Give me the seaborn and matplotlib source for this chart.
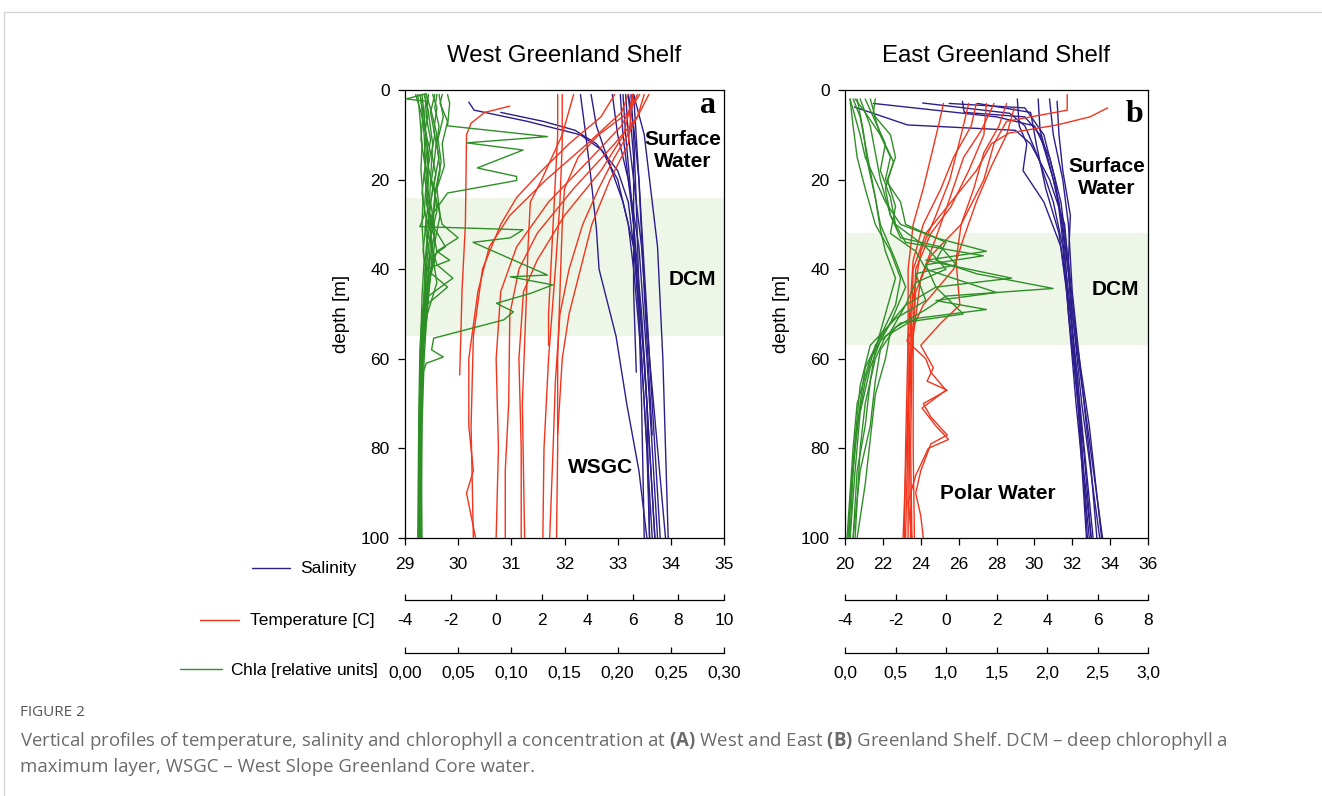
import numpy as np
import pandas as pd
import matplotlib
matplotlib.use("Agg")
import matplotlib.pyplot as plt
import seaborn as sns
from matplotlib.lines import Line2D

# ------------------------------------------------------------------ data
PANEL_TITLES = ["West Greenland Shelf", "East Greenland Shelf"]
PANEL_LETTERS = ["a", "b"]
DEPTH_TICKS = [0, 20, 40, 60, 80, 100]

WEST_SAL_TICKS = [29, 30, 31, 32, 33, 34, 35]
WEST_TEMP_TICKS = [-4, -2, 0, 2, 4, 6, 8, 10]
WEST_CHL_TICKS = [0.00, 0.05, 0.10, 0.15, 0.20, 0.25, 0.30]
WEST_CHL_LABELS = ["0,00", "0,05", "0,10", "0,15", "0,20", "0,25", "0,30"]

EAST_SAL_TICKS = [20, 22, 24, 26, 28, 30, 32, 34, 36]
EAST_TEMP_TICKS = [-4, -2, 0, 2, 4, 6, 8]
EAST_CHL_TICKS = [0.0, 0.5, 1.0, 1.5, 2.0, 2.5, 3.0]
EAST_CHL_LABELS = ["0,0", "0,5", "1,0", "1,5", "2,0", "2,5", "3,0"]

# deep chlorophyll maximum layer (depth range, m)
WEST_DCM = (24, 55)
EAST_DCM = (32, 57)

# profiles: (depth [m], value)
WEST_SALINITY = [
    [(2.7, 30.2), (4.5, 30.3), (7, 31.3), (10, 32.3), (13.4, 32.7), (20, 33.0), (30, 33.2), (40, 33.3), (60, 33.45), (80, 33.55), (100, 33.6)],
    [(5, 30.8), (7, 31.6), (9, 32.2), (12, 32.6), (18, 33.0), (25, 33.2), (40, 33.35), (60, 33.5), (80, 33.6), (100, 33.7)],
    [(1, 32.3), (10, 32.4), (20, 32.5), (31, 32.6), (40, 32.65), (55, 32.97), (70, 33.17), (85, 33.4), (100, 33.55)],
    [(1, 32.5), (8, 32.6), (15, 32.8), (25, 33.1), (35, 33.3), (50, 33.4), (70, 33.5), (100, 33.65)],
    [(1, 32.9), (10, 33.0), (20, 33.2), (30, 33.3), (50, 33.45), (70, 33.55), (100, 33.7)],
    [(1, 33.05), (10, 33.1), (20, 33.2), (35, 33.4), (60, 33.55), (100, 33.75)],
    [(1, 33.15), (10, 33.2), (20, 33.3), (35, 33.45), (60, 33.6), (100, 33.8)],
    [(1, 33.2), (8, 33.3), (20, 33.4), (40, 33.5), (60, 33.6), (100, 33.9)],
    [(1, 33.3), (10, 33.5), (20, 33.6), (35, 33.75), (60, 33.85), (100, 33.95)],
    [(1, 33.25), (10, 33.3), (25, 33.35), (45, 33.4), (70, 33.55), (100, 33.6)],
    [(1, 33.1), (10, 33.15), (30, 33.3), (50, 33.4), (70, 33.45), (100, 33.5)],
    [(1, 33.2), (15, 33.3), (30, 33.3), (45, 33.3), (63, 33.35)],
    [(1, 33.3), (20, 33.4), (45, 33.5), (77, 33.65)],
]

WEST_TEMPERATURE = [
    [(3.6, 0.6), (5, -0.5), (7.4, -1.1), (10, -1.3), (30, -1.35), (45, -1.5), (55, -1.55), (63.6, -1.6)],
    [(1, 5.8), (5, 5.5), (12, 4.0), (20, 2.2), (28, 0.6), (35, -0.3), (45, -0.8), (60, -1.2), (75, -1.2), (85, -1.0), (90, -1.3), (100, -0.9)],
    [(1, 6.2), (8, 5.5), (15, 4.2), (25, 2.3), (35, 0.9), (45, 0.2), (60, 0.0), (80, 0.1), (100, 0.0)],
    [(1, 6.5), (6, 6.2), (12, 5.2), (22, 3.4), (32, 1.8), (40, 1.0), (50, 0.6), (70, 0.55), (85, 0.4), (100, 0.4)],
    [(1, 6.0), (10, 5.6), (18, 4.6), (28, 3.0), (38, 1.8), (45, 1.2), (60, 1.0), (80, 1.1), (100, 1.1)],
    [(1, 2.7), (10, 2.7), (20, 2.6), (30, 2.5), (40, 2.4), (50, 2.3), (57, 2.3)],
    [(1, 2.9), (12, 2.9), (25, 2.8), (40, 2.6), (60, 2.3), (80, 2.1), (100, 2.05)],
    [(1, 6.7), (8, 6.0), (15, 5.2), (22, 4.5), (30, 3.8), (40, 3.2), (50, 2.8), (65, 2.6), (80, 2.5), (100, 2.35)],
    [(1, 6.3), (5, 5.8), (10, 4.5), (15, 3.6), (22, 3.0), (30, 2.9), (45, 2.8), (60, 2.7), (80, 2.7), (100, 2.65)],
    [(1, 3.4), (10, 2.9), (20, 2.0), (25, 1.5), (35, 1.4), (50, 1.3), (70, 1.15), (100, 1.25)],
    [(1, 6.0), (12, 5.8), (20, 5.0), (30, 4.2), (40, 3.7), (50, 3.2), (60, 2.9), (77, 2.7)],
    [(1, 5.2), (6, 4.6), (12, 3.2), (18, 2.0), (24, 0.9), (30, 0.2), (40, -0.6), (55, -1.0), (75, -1.1), (100, -1.0)],
]

WEST_CHLA = [
    [(1, 0.040), (3, 0.042), (8, 0.040), (10.4, 0.134), (11.8, 0.058), (13.4, 0.111), (17.4, 0.068), (19.3, 0.105), (20.2, 0.105), (23, 0.040), (28, 0.025), (35, 0.020), (45, 0.018), (60, 0.015), (80, 0.014), (100, 0.013)],
    [(2, 0.015), (10, 0.018), (20, 0.020), (28, 0.018), (30.5, 0.014), (31.2, 0.111), (33, 0.099), (34, 0.064), (41.3, 0.134), (41.7, 0.099), (43.5, 0.139), (45.4, 0.118), (47.6, 0.086), (49.5, 0.102), (51.3, 0.093), (55.4, 0.027), (58, 0.025), (59.6, 0.036), (61, 0.020), (65, 0.014), (80, 0.013), (100, 0.013)],
    [(1, 0.020), (5, 0.025), (10, 0.030), (15, 0.028), (20, 0.025), (25, 0.030), (30, 0.035), (33, 0.050), (36, 0.030), (38, 0.042), (40, 0.020), (44, 0.040), (48, 0.020), (55, 0.016), (70, 0.014), (100, 0.014)],
    [(1, 0.010), (5, 0.015), (10, 0.020), (15, 0.018), (20, 0.022), (25, 0.020), (30, 0.025), (35, 0.022), (40, 0.020), (50, 0.017), (60, 0.015), (80, 0.014), (100, 0.013)],
    [(1, 0.030), (4, 0.028), (8, 0.032), (12, 0.030), (18, 0.033), (24, 0.028), (30, 0.025), (36, 0.030), (42, 0.022), (50, 0.020), (60, 0.016), (80, 0.015), (100, 0.014)],
    [(1, 0.035), (3, 0.033), (7, 0.040), (12, 0.035), (17, 0.037), (22, 0.030), (28, 0.033), (34, 0.028), (40, 0.025), (48, 0.020), (58, 0.017), (75, 0.015), (100, 0.014)],
    [(1, 0.012), (6, 0.014), (12, 0.016), (18, 0.015), (24, 0.017), (30, 0.016), (38, 0.018), (46, 0.016), (55, 0.015), (70, 0.014), (100, 0.013)],
    [(1, 0.022), (6, 0.020), (11, 0.024), (16, 0.021), (22, 0.026), (27, 0.023), (32, 0.028), (37, 0.024), (43, 0.021), (52, 0.018), (65, 0.015), (85, 0.014), (100, 0.014)],
    [(1, 0.018), (5, 0.022), (9, 0.019), (14, 0.024), (20, 0.020), (26, 0.024), (31, 0.020), (39, 0.030), (42, 0.045), (46, 0.022), (54, 0.017), (62, 0.015), (80, 0.014), (100, 0.015)],
    [(1, 0.026), (4, 0.030), (9, 0.027), (15, 0.032), (21, 0.027), (27, 0.030), (33, 0.024), (38, 0.028), (45, 0.020), (55, 0.018), (65, 0.016), (100, 0.015)],
    [(0.8, 0.020), (2, 0.001), (2.5, 0.020), (5, 0.022), (12, 0.026), (20, 0.024), (30, 0.022), (40, 0.019), (60, 0.016), (100, 0.014)],
    [(1, 0.016), (8, 0.019), (16, 0.022), (26, 0.021), (35, 0.026), (44, 0.023), (52, 0.020), (60, 0.018), (75, 0.016), (100, 0.015)],
    [(1, 0.014), (5, 0.017), (11, 0.015), (17, 0.019), (23, 0.016), (29, 0.020), (36, 0.017), (42, 0.021), (50, 0.016), (58, 0.014), (72, 0.013), (100, 0.012)],
    [(1, 0.028), (5, 0.024), (10, 0.028), (14, 0.025), (19, 0.029), (25, 0.024), (31, 0.028), (35, 0.038), (37, 0.026), (43, 0.030), (50, 0.021), (58, 0.017), (72, 0.015), (100, 0.014)],
    [(1, 0.020), (7, 0.018), (13, 0.021), (19, 0.018), (25, 0.022), (31, 0.019), (37, 0.023), (43, 0.019), (49, 0.018), (57, 0.016), (70, 0.015), (100, 0.016)],
    [(1, 0.032), (6, 0.036), (11, 0.031), (16, 0.034), (22, 0.029), (28, 0.027), (34, 0.024), (41, 0.022), (48, 0.019), (56, 0.016), (70, 0.014), (100, 0.013)],
]

EAST_SALINITY = [
    [(3.8, 20.5), (7.8, 23.3), (9, 29.0), (12, 29.8), (20, 30.8), (30, 31.6), (40, 31.8), (60, 32.1), (80, 32.6), (100, 33.0)],
    [(2.9, 24.1), (5.2, 28.7), (8, 29.5), (15, 30.2), (25, 31.0), (35, 31.5), (50, 31.8), (70, 32.3), (100, 32.75)],
    [(3, 21.5), (6, 28.0), (8, 30.0), (15, 30.8), (25, 31.4), (35, 31.7), (50, 32.0), (75, 32.8), (100, 33.6)],
    [(2.5, 26.2), (5, 26.3), (6, 29.5), (10, 30.3), (20, 31.0), (30, 31.5), (45, 31.9), (70, 32.5), (100, 33.45)],
    [(2, 29.1), (8, 29.2), (12, 29.6), (18, 29.4), (25, 30.5), (35, 31.4), (50, 31.9), (70, 32.4), (100, 33.1)],
    [(2, 30.2), (9, 30.3), (15, 30.7), (25, 31.3), (35, 31.6), (50, 31.8), (70, 32.2), (100, 32.9)],
    [(2.5, 31.2), (10, 31.3), (18, 31.5), (28, 31.9), (38, 31.8), (55, 32.2), (75, 32.9), (100, 33.55)],
    [(2, 30.8), (10, 31.0), (20, 31.5), (30, 31.8), (45, 32.0), (65, 32.5), (85, 33.0), (100, 33.3)],
    [(3, 25.5), (4, 29.5), (10, 30.5), (20, 31.1), (30, 31.4), (45, 31.8), (65, 32.3), (100, 32.8)],
    [(3, 27.0), (5, 29.8), (12, 30.1), (22, 30.6), (32, 31.3), (45, 31.7), (65, 32.2), (85, 32.6), (100, 33.0)],
]

EAST_TEMPERATURE = [
    [(4, 6.4), (6, 5.7), (7.8, 4.4), (9.6, 2.5), (12, 1.8), (18, 1.2), (25, 0.2), (32, -0.8), (40, -1.3), (60, -1.4), (80, -1.45), (100, -1.4)],
    [(1, 4.8), (4.5, 4.8), (7, 2.4), (12, 1.9), (20, 1.5), (30, 0.6), (37, -0.6), (45, -1.2), (70, -1.5), (100, -1.7)],
    [(3, 1.2), (8, 1.0), (15, 0.3), (22, -0.2), (30, -0.9), (38, -1.3), (55, -1.5), (80, -1.6), (100, -1.65)],
    [(3, 1.6), (10, 1.5), (18, 0.9), (26, 0.2), (32, -0.6), (40, -1.2), (60, -1.35), (80, -1.4), (100, -1.35)],
    [(3, -0.1), (8, -0.3), (15, -0.6), (22, -0.9), (30, -1.3), (40, -1.5), (60, -1.5), (100, -1.5)],
    [(3, 2.4), (8, 2.1), (14, 1.5), (22, 1.1), (30, 0.6), (38, 0.4), (45, 0.5), (48, 0.55), (52, -0.2), (57, -1.0), (62, -0.5), (65, -0.75), (67, 0.05), (70, -0.9), (73, -0.6), (77, 0.05), (79, -0.6), (85, -1.0), (90, -1.2), (95, -1.0), (100, -0.9)],
    [(4, 2.7), (10, 2.4), (17, 1.8), (25, 1.2), (33, 0.7), (40, 0.3), (48, -0.9), (56, -1.55), (60, -0.8), (63, -0.6), (67, 0.0), (71, -0.95), (75, -0.4), (78, 0.1), (80, -0.7), (86, -1.2), (92, -1.5), (100, -1.35)],
    [(3, 1.9), (9, 1.4), (15, 0.7), (25, 0.1), (33, -0.4), (42, -1.0), (55, -1.3), (80, -1.3), (100, -1.25)],
    [(3, 0.9), (10, 0.6), (20, 0.15), (28, -0.4), (36, -1.0), (50, -1.4), (75, -1.5), (100, -1.6)],
]

EAST_CHLA = [
    [(2, 0.05), (6, 0.10), (10, 0.15), (15, 0.20), (20, 0.30), (25, 0.40), (30, 0.55), (33, 0.90), (36, 1.40), (38, 0.80), (42, 1.65), (44, 0.90), (48, 0.60), (52, 0.45), (57, 0.30), (65, 0.20), (75, 0.12), (85, 0.08), (100, 0.05)],
    [(2, 0.10), (5, 0.20), (10, 0.35), (15, 0.45), (20, 0.40), (25, 0.55), (30, 0.60), (34, 1.00), (38, 0.90), (41, 1.30), (44.3, 2.06), (46, 1.00), (49, 0.80), (53, 0.50), (58, 0.35), (65, 0.30), (75, 0.25), (85, 0.15), (100, 0.08)],
    [(2, 0.25), (6, 0.30), (10, 0.45), (15, 0.50), (20, 0.42), (26, 0.50), (32, 0.45), (36, 0.70), (40, 0.80), (45.2, 1.50), (47, 0.90), (49, 1.40), (51, 0.70), (55, 0.40), (60, 0.30), (70, 0.20), (80, 0.15), (100, 0.10)],
    [(2, 0.15), (8, 0.25), (14, 0.30), (20, 0.35), (28, 0.45), (34, 0.60), (37, 1.37), (39, 0.80), (44, 0.90), (50, 1.17), (52, 0.55), (56, 0.35), (62, 0.25), (72, 0.15), (85, 0.10), (100, 0.05)],
    [(2, 0.05), (8, 0.08), (15, 0.12), (22, 0.20), (30, 0.30), (36, 0.45), (42, 0.55), (48, 0.50), (55, 0.35), (62, 0.20), (70, 0.15), (80, 0.10), (90, 0.06), (100, 0.03)],
    [(2, 0.20), (7, 0.30), (12, 0.40), (18, 0.35), (24, 0.45), (30, 0.50), (35, 0.80), (40, 1.00), (43, 0.70), (48, 0.60), (54, 0.45), (60, 0.40), (68, 0.30), (78, 0.25), (88, 0.20), (100, 0.12)],
    [(2, 0.08), (6, 0.15), (12, 0.20), (18, 0.25), (24, 0.30), (30, 0.35), (38, 0.50), (44, 0.60), (52, 0.45), (60, 0.25), (70, 0.12), (80, 0.08), (100, 0.02)],
    [(2, 0.30), (5, 0.28), (10, 0.35), (16, 0.48), (22, 0.40), (28, 0.45), (33, 0.55), (35, 0.95), (39, 1.10), (41, 0.70), (47, 0.80), (51, 0.50), (57, 0.25), (66, 0.15), (78, 0.10), (92, 0.05), (100, 0.04)],
    [(2, 0.12), (9, 0.18), (16, 0.22), (24, 0.30), (31, 0.35), (36, 0.40), (42, 0.50), (50, 0.40), (58, 0.30), (65, 0.25), (75, 0.20), (85, 0.12), (100, 0.08)],
]

LEGEND_LABELS = ["Salinity", "Temperature [C]", r"Chl$\mathit{a}$ [relative units]"]

CAPTION_HEAD = "FIGURE 2"
CAPTION_LINES = [
    r"Vertical profiles of temperature, salinity and chlorophyll a concentration at $\mathbf{(A)}$ West and East "
    r"$\mathbf{(B)}$ Greenland Shelf. DCM – deep chlorophyll a",
    "maximum layer, WSGC – West Slope Greenland Core water.",
]

# ------------------------------------------------------------------ style
sns.set_style("ticks")
plt.rcParams["font.family"] = ["Liberation Sans", "DejaVu Sans"]
plt.rcParams["mathtext.fontset"] = "custom"
plt.rcParams["mathtext.it"] = "Liberation Sans:italic"
plt.rcParams["mathtext.bf"] = "Open Sans:bold"
plt.rcParams["axes.linewidth"] = 0.9
plt.rcParams["axes.edgecolor"] = "black"
for key in ["text.color", "axes.labelcolor", "xtick.color", "ytick.color"]:
    plt.rcParams[key] = "black"

BLUE = "#2d1e8c"
RED = "#f2341c"
GREEN = "#2f8f27"
DCM_COLOR = "#eef6e8"
TICK_SIZE = 12.5

W, H = 1322, 796
fig = plt.figure(figsize=(W / 100, H / 100), dpi=100)


def px_axes(x0, y0, x1, y1):
    return fig.add_axes([x0 / W, 1 - y1 / H, (x1 - x0) / W, (y1 - y0) / H])


def to_frame(profiles):
    rows = [(i, d, v) for i, prof in enumerate(profiles) for d, v in prof]
    return pd.DataFrame(rows, columns=["profile", "depth", "value"])


def draw_profiles(ax, profiles, color):
    sns.lineplot(data=to_frame(profiles), x="value", y="depth", units="profile",
                 estimator=None, orient="y", sort=True, color=color, lw=1.0,
                 legend=False, ax=ax)
    ax.set_xlabel("")
    ax.set_ylabel("")


def add_scale(ax, lim, ticks, labels, offset_px):
    sec = ax.twiny()
    sec.set_xlim(*lim)
    for side in ["top", "left", "right"]:
        sec.spines[side].set_visible(False)
    sec.spines["bottom"].set_visible(True)
    sec.spines["bottom"].set_position(("outward", offset_px * 72 / 100))
    sec.xaxis.set_ticks_position("bottom")
    sec.set_xticks(ticks)
    sec.set_xticklabels(labels)
    sec.tick_params(axis="x", direction="in", length=4, width=0.9, pad=9.5,
                    labelsize=TICK_SIZE, top=False)
    return sec


def build_panel(box, sal_lim, sal_ticks, temp_lim, temp_ticks, chl_lim,
                chl_ticks, chl_labels, dcm, sal, temp, chl):
    ax = px_axes(*box)
    ax.axhspan(dcm[0], dcm[1], color=DCM_COLOR, lw=0, zorder=0)
    draw_profiles(ax, sal, BLUE)
    ax.set_xlim(*sal_lim)
    ax.set_ylim(100, 0)
    ax.set_xticks(sal_ticks)
    ax.set_yticks(DEPTH_TICKS)
    ax.tick_params(direction="out", length=5, width=0.9, pad=6, labelsize=TICK_SIZE)
    ax.tick_params(axis="x", pad=8.5)
    for side in ["top", "right", "left", "bottom"]:
        ax.spines[side].set_visible(True)
    ax.set_ylabel("depth [m]", fontsize=13.5, labelpad=8)

    axT = add_scale(ax, temp_lim, temp_ticks, [str(t) for t in temp_ticks], 62)
    draw_profiles(axT, temp, RED)
    axT.set_xlim(*temp_lim)
    axT.set_ylim(100, 0)

    axC = add_scale(ax, chl_lim, chl_ticks, chl_labels, 115)
    draw_profiles(axC, chl, GREEN)
    axC.set_xlim(*chl_lim)
    axC.set_ylim(100, 0)
    return ax


NOTE = dict(fontsize=15, fontweight="bold", ha="center", va="center", linespacing=1.2)
LETTER = dict(fontsize=23, fontweight="bold", family="Liberation Serif",
              ha="center", va="baseline")

# West Greenland Shelf
axA = build_panel((405, 90, 724, 538), (29, 35), WEST_SAL_TICKS, (-4, 10),
                  WEST_TEMP_TICKS, (0, 0.30), WEST_CHL_TICKS, WEST_CHL_LABELS,
                  WEST_DCM, WEST_SALINITY, WEST_TEMPERATURE, WEST_CHLA)
axA.text(34.23, 13.6, "Surface\nWater", zorder=10, **NOTE)
axA.text(34.41, 42.2, "DCM", zorder=10, **NOTE)
axA.text(32.67, 84.2, "WSGC", zorder=10, **NOTE)
axA.text(34.7, 5.1, PANEL_LETTERS[0], zorder=10, **LETTER)

# East Greenland Shelf
axB = build_panel((845, 90, 1148, 538), (20, 36), EAST_SAL_TICKS, (-4, 8),
                  EAST_TEMP_TICKS, (0, 3.0), EAST_CHL_TICKS, EAST_CHL_LABELS,
                  EAST_DCM, EAST_SALINITY, EAST_TEMPERATURE, EAST_CHLA)
axB.text(33.83, 19.6, "Surface\nWater", zorder=10, **NOTE)
axB.text(34.26, 44.6, "DCM", zorder=10, **NOTE)
axB.text(28.08, 90.0, "Polar Water", zorder=10, **NOTE)
axB.text(35.3, 7.1, PANEL_LETTERS[1], zorder=10, **LETTER)

# panel titles
fig.text(564.5 / W, 1 - 56 / H, PANEL_TITLES[0], fontsize=17.3, ha="center", va="center")
fig.text(996.5 / W, 1 - 56 / H, PANEL_TITLES[1], fontsize=17.3, ha="center", va="center")

# legend for the three scales
legend_rows = [(BLUE, 252, 290, 568, 300), (RED, 200, 239, 620, 250), (GREEN, 180, 222, 669, 230)]
for (col, x0, x1, y, tx), label in zip(legend_rows, LEGEND_LABELS):
    fig.add_artist(Line2D([x0 / W, x1 / W], [1 - y / H, 1 - y / H], color=col, lw=1.0,
                          transform=fig.transFigure))
    fig.text(tx / W, 1 - (y + 1) / H, label, fontsize=12.5, ha="left", va="center")

# caption
fig.text(20 / W, 1 - 712 / H, CAPTION_HEAD, fontsize=11, color="#555555",
         family="Open Sans", ha="left", va="center")
for i, line in enumerate(CAPTION_LINES):
    fig.text(20 / W, 1 - (741 + 26 * i) / H, line, fontsize=13.4, color="#6b6b6b",
             family="Open Sans", ha="left", va="center")

# page frame
fig.add_artist(Line2D([4 / W, 1], [1 - 12 / H, 1 - 12 / H], color="#d6d6d6", lw=1,
                      transform=fig.transFigure))
fig.add_artist(Line2D([4 / W, 4 / W], [0, 1 - 12 / H], color="#d6d6d6", lw=1,
                      transform=fig.transFigure))

fig.savefig("out.png", dpi=100, facecolor="white")
